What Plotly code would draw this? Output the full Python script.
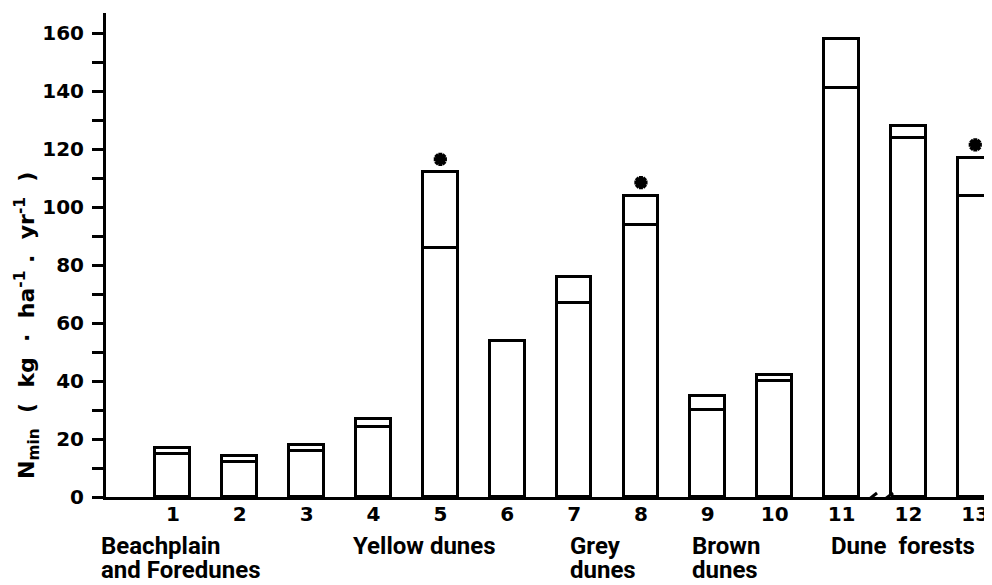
import plotly.graph_objects as go

# ---- data ----
sites = [1, 2, 3, 4, 5, 6, 7, 8, 9, 10, 11, 12, 13]
site_labels = ["1", "2", "3", "4", "5", "6", "7", "8", "9", "10", "11", "12", "13"]
nmin_lower = [15, 12, 16, 24, 86, 54, 67, 94, 30, 40, 141, 124, 104]
nmin_total = [17, 14, 18, 27, 112, 54, 76, 104, 35, 42, 158, 128, 117]
significant_sites = [5, 8, 13]
group_labels = ["Beachplain<br>and Foredunes", "Yellow dunes", "Grey<br>dunes", "Brown<br>dunes", "Dune  forests"]
group_first_site = [1, 4, 7, 9, 11]   # site under which each group label starts
y_ticks = [0, 20, 40, 60, 80, 100, 120, 140, 160]

FONT = "DejaVu Sans, sans-serif"
LABEL_FONT = "Roboto, DejaVu Sans, sans-serif"
BW = 0.52
LW = 3

# the page body has an 8 px margin; size the figure so it fits the window
W, H = 984, 577
ML, MT, MB = 98, 5, 88
PW = W - ML
PH = H - MT - MB

upper_part = [t - l for t, l in zip(nmin_total, nmin_lower)]

fig = go.Figure()
fig.add_trace(go.Bar(x=sites, y=nmin_lower, width=BW,
                     marker=dict(color="white", line=dict(color="black", width=LW)),
                     showlegend=False, hoverinfo="skip"))
fig.add_trace(go.Bar(x=sites, y=upper_part, width=BW,
                     marker=dict(color="white", line=dict(color="black", width=LW)),
                     showlegend=False, hoverinfo="skip"))

# significance asterisks above bars
star_y = [nmin_total[sites.index(s)] + 4.5 for s in significant_sites]
fig.add_trace(go.Scatter(x=significant_sites, y=star_y, mode="markers",
                         marker=dict(symbol="asterisk-open", size=11, color="black",
                                     line=dict(color="black", width=4)),
                         showlegend=False, hoverinfo="skip"))

# group labels under the axis (pixel offsets from the first site's centre)
label_shift = {1: -74, 4: -22, 7: -6, 9: -18, 11: -13}
for lab, s in zip(group_labels, group_first_site):
    for i, line in enumerate(lab.split("<br>")):
        fig.add_annotation(x=s, y=0, xref="x", yref="y",
                           xshift=label_shift[s], yshift=-33 - 24 * i,
                           text=line, showarrow=False, xanchor="left", yanchor="top",
                           align="left",
                           font=dict(family=LABEL_FONT, size=24, color="black", weight="bold"))

# y-axis title as an annotation (centred at page y ~326, x ~27)
fig.add_annotation(x=-79 / PW, y=(497 - 326) / PH, xref="paper", yref="paper",
                   text="N<sub>min</sub>  (  kg  ·  ha<sup>-1</sup> .  yr<sup>-1</sup>  )",
                   textangle=-90, showarrow=False, xanchor="center", yanchor="middle",
                   font=dict(family=FONT, size=22, color="black", weight="bold"))

# axis break between sites 11 and 12
fig.add_shape(type="rect", xref="x", yref="y", x0=11.33, x1=11.74,
              ysizemode="pixel", yanchor=0, y0=-4, y1=3,
              fillcolor="white", line=dict(width=0), layer="above")
for xa, xb in [(11.30, 11.53), (11.53, 11.77)]:
    fig.add_shape(type="line", xref="x", yref="y", x0=xa, x1=xb,
                  ysizemode="pixel", yanchor=0, y0=-8, y1=4,
                  line=dict(color="black", width=3), layer="above")

fig.update_layout(
    width=W, height=H,
    margin=dict(l=ML, r=0, t=MT, b=MB, autoexpand=False),
    barmode="stack", bargap=0,
    plot_bgcolor="white", paper_bgcolor="white",
    font=dict(family=FONT, color="black"),
    xaxis=dict(range=[0, 13.25], tickvals=sites, ticktext=site_labels,
               showline=True, linecolor="black", linewidth=LW, ticks="",
               ticklabelstandoff=-3,
               showgrid=False, zeroline=False, automargin=False,
               tickfont=dict(family=FONT, size=20, color="black", weight="bold")),
    yaxis=dict(range=[0, 167], tickvals=y_ticks, automargin=False,
               showline=True, linecolor="black", linewidth=LW,
               ticks="outside", ticklen=11, tickwidth=3, tickcolor="black",
               ticklabelstandoff=4,
               minor=dict(dtick=10, ticks="outside", ticklen=11, tickwidth=3, tickcolor="black"),
               showgrid=False, zeroline=False,
               tickfont=dict(family=FONT, size=20, color="black", weight="bold")),
)

fig.write_html("out.html")
